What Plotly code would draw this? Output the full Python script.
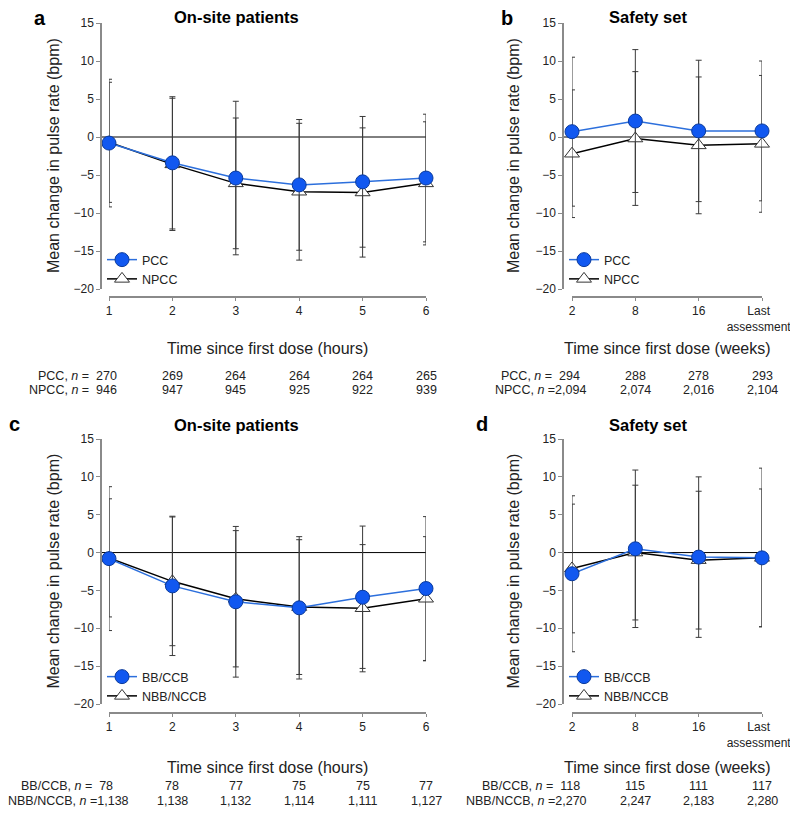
import plotly.graph_objects as go

# Valeurs (moyenne et écart-type, bpm)
hours = [1, 2, 3, 4, 5, 6]
weeks = ["2", "8", "16", "Last<br>assessment"]
week_ticks = ["2", "8", "16", "Last\u00a0\u00a0<br>assessment\u00a0\u00a0"]

pcc_a = [-0.8, -3.4, -5.4, -6.3, -5.9, -5.4]
pcc_a_sd = [8.4, 8.7, 10.1, 8.6, 8.6, 8.4]
npcc_a = [-0.7, -3.6, -6.1, -7.2, -7.3, -6.1]
npcc_a_sd = [7.9, 8.7, 8.6, 9.0, 8.5, 8.1]

pcc_b = [0.7, 2.1, 0.8, 0.8]
pcc_b_sd = [9.8, 9.4, 9.3, 9.2]
npcc_b = [-2.2, -0.2, -1.1, -0.9]
npcc_b_sd = [8.4, 8.8, 9.0, 9.0]

bb_c = [-0.8, -4.4, -6.5, -7.3, -5.9, -4.75]
bb_c_sd = [9.5, 9.2, 9.95, 9.4, 9.4, 9.5]
nbb_c = [-0.7, -3.8, -6.1, -7.2, -7.35, -6.1]
nbb_c_sd = [7.8, 8.5, 9.0, 8.9, 8.4, 8.2]

bb_d = [-2.8, 0.5, -0.6, -0.7]
bb_d_sd_up = [10.3, 10.4, 10.6, 11.85]
bb_d_sd_down = [10.3, 10.4, 10.6, 9.1]
nbb_d = [-2.1, 0.0, -1.0, -0.7]
nbb_d_sd = [8.5, 8.9, 9.1, 9.1]

# Effectifs
pcc_n_a = [270, 269, 264, 264, 264, 265]
npcc_n_a = [946, 947, 945, 925, 922, 939]
pcc_n_b = [294, 288, 278, 293]
npcc_n_b = [2094, 2074, 2016, 2104]
bb_n_c = [78, 78, 77, 75, 75, 77]
nbb_n_c = [1138, 1138, 1132, 1114, 1111, 1127]
bb_n_d = [118, 115, 111, 117]
nbb_n_d = [2270, 2247, 2183, 2280]

# la page a une marge de 8 px : la figure fait donc 790 x 809
OFF = 8
W, H = 798 - OFF, 817 - OFF
FONT = "Liberation Sans, Arial, Helvetica, sans-serif"
BLUE_LINE = "#2c6fdc"
BLUE_FILL = "#1158f0"
BLUE_EDGE = "#0a3a9c"
ERR = "#3a3a3a"
AXIS = "#8a8a8a"
TXT = "#222222"


def px(x):
    return (x - OFF) / W


def py(y):
    return 1 - (y - OFF) / H


panels = [
    dict(k="", label="a", title="On-site patients", x=hours, names=["PCC", "NPCC"],
         m1=pcc_a, s1=pcc_a_sd, s1m=pcc_a_sd, m2=npcc_a, s2=npcc_a_sd,
         n1=pcc_n_a, n2=npcc_n_a, unit="hours", col=0, row=0, edges=[119, 119]),
    dict(k="2", label="b", title="Safety set", x=weeks, names=["PCC", "NPCC"],
         m1=pcc_b, s1=pcc_b_sd, s1m=pcc_b_sd, m2=npcc_b, s2=npcc_b_sd,
         n1=pcc_n_b, n2=npcc_n_b, unit="weeks", col=1, row=0, edges=[582, 588]),
    dict(k="3", label="c", title="On-site patients", x=hours, names=["BB/CCB", "NBB/NCCB"],
         m1=bb_c, s1=bb_c_sd, s1m=bb_c_sd, m2=nbb_c, s2=nbb_c_sd,
         n1=bb_n_c, n2=nbb_n_c, unit="hours", col=0, row=1, edges=[115, 131]),
    dict(k="4", label="d", title="Safety set", x=weeks, names=["BB/CCB", "NBB/NCCB"],
         m1=bb_d, s1=bb_d_sd_up, s1m=bb_d_sd_down, m2=nbb_d, s2=nbb_d_sd,
         n1=bb_n_d, n2=nbb_n_d, unit="weeks", col=1, row=1, edges=[582, 589]),
]

# géométrie en pixels (coordonnées de la fenêtre)
cols = [dict(yax=101, xdom=(109, 426), zero_end=426, title_x=236, ytitle_x=53, leg_x=102),
        dict(yax=563, xdom=(572, 762), zero_end=765, title_x=648, ytitle_x=513, leg_x=564)]
rows = [dict(ydom=(23, 289), xax=297, title_y=17, xtitle_y=349, n_y=(376, 390), leg_y=245),
        dict(ydom=(439, 704), xax=713, title_y=425, xtitle_y=767, n_y=(786, 801), leg_y=662)]
labels_pos = {"a": (40, 18), "b": (507, 18), "c": (14, 424), "d": (482, 424)}


def note(text, x, y, size, xref="paper", xanchor="center", angle=0, color=TXT):
    return dict(text=text, x=x, y=y, xref=xref, yref="paper", xanchor=xanchor,
                yanchor="middle", textangle=angle, showarrow=False,
                font=dict(size=size, family=FONT, color=color))


fig = go.Figure()
annotations = []
shapes = []
layout = {}

for p in panels:
    c, r = cols[p["col"]], rows[p["row"]]
    xa, ya = "x" + p["k"], "y" + p["k"]
    leg = "legend" + p["k"]
    is_cat = p["x"] is weeks

    fig.add_trace(go.Scatter(
        x=p["x"], y=p["m2"], name=p["names"][1], mode="lines+markers",
        xaxis=xa, yaxis=ya, legend=leg, legendrank=2, cliponaxis=False,
        line=dict(color="black", width=1.5),
        marker=dict(symbol="triangle-up", size=13, color="white",
                    line=dict(color="#333333", width=1)),
        error_y=dict(type="data", array=p["s2"], color=ERR, thickness=1, width=3),
    ))
    fig.add_trace(go.Scatter(
        x=p["x"], y=p["m1"], name=p["names"][0], mode="lines+markers",
        xaxis=xa, yaxis=ya, legend=leg, legendrank=1, cliponaxis=False,
        line=dict(color=BLUE_LINE, width=1.5),
        marker=dict(symbol="circle", size=14, color=BLUE_FILL,
                    line=dict(color=BLUE_EDGE, width=1)),
        error_y=dict(type="data", array=p["s1"], arrayminus=p["s1m"],
                     color=ERR, thickness=1, width=3),
    ))

    xaxis = dict(domain=[px(c["xdom"][0]), px(c["xdom"][1])], anchor="free",
                 position=py(r["xax"]), showline=True, linecolor=AXIS, linewidth=1.5,
                 ticks="outside", ticklen=3, tickcolor=AXIS, showgrid=False, zeroline=False,
                 automargin=False, tickfont=dict(size=12, color=TXT, family=FONT))
    if is_cat:
        xaxis.update(type="category", range=[0, 3], tickvals=weeks, ticktext=week_ticks)
    else:
        xaxis.update(range=[1, 6], tickvals=hours)
    layout["xaxis" + p["k"]] = xaxis
    layout["yaxis" + p["k"]] = dict(
        domain=[py(r["ydom"][1]), py(r["ydom"][0])], anchor="free", position=px(c["yax"]),
        range=[-20, 15], tickvals=[-20, -15, -10, -5, 0, 5, 10, 15],
        ticktext=["\u221220", "\u221215", "\u221210", "\u22125", "0", "5", "10", "15"],
        showline=True, linecolor=AXIS, linewidth=1.5, ticks="outside", ticklen=4,
        tickcolor=AXIS, showgrid=False, zeroline=False, automargin=False,
        tickfont=dict(size=12, color=TXT, family=FONT))
    layout[leg] = dict(x=px(c["leg_x"]), y=py(r["leg_y"]), xanchor="left", yanchor="top",
                       bgcolor="rgba(0,0,0,0)", font=dict(size=12.5, family=FONT, color=TXT),
                       traceorder="normal")

    # ligne zéro
    shapes.append(dict(type="line", xref="paper", yref=ya, x0=px(c["yax"]), x1=px(c["zero_end"]),
                       y0=0, y1=0, line=dict(color="black", width=1), layer="below"))

    # textes
    lx, ly = labels_pos[p["label"]]
    annotations.append(note("<b>%s</b>" % p["label"], px(lx), py(ly), 20, color="black"))
    annotations.append(note("<b>%s</b>" % p["title"], px(c["title_x"]), py(r["title_y"]), 16.5,
                            color="black"))
    annotations.append(note("Mean change in pulse rate (bpm)", px(c["ytitle_x"]),
                            py((r["ydom"][0] + r["ydom"][1]) / 2), 16, angle=-90))
    annotations.append(note("Time since first dose (%s)" % p["unit"],
                            px((c["xdom"][0] + c["xdom"][1]) / 2), py(r["xtitle_y"]), 16))
    for j, (nm, ns) in enumerate([(p["names"][0], p["n1"]), (p["names"][1], p["n2"])]):
        ny = py(r["n_y"][j])
        sep = "\u00a0=\u00a0\u00a0" if ns[0] < 1000 else "\u00a0="
        annotations.append(note("%s, <i>n</i>%s%s" % (nm, sep, format(ns[0], ",")),
                                px(p["edges"][j]), ny, 12.5, xanchor="right"))
        for i in range(1, len(ns)):
            xv = i if is_cat else p["x"][i]
            annotations.append(note(format(ns[i], ","), xv, ny, 12.5, xref=xa))

fig.update_layout(
    template="none",
    width=W, height=H, margin=dict(l=0, r=0, t=0, b=0, autoexpand=False),
    paper_bgcolor="white", plot_bgcolor="white",
    font=dict(family=FONT, color=TXT),
    annotations=annotations, shapes=shapes, **layout,
)

fig.write_html("out.html")
print("out.html généré avec succès !")
